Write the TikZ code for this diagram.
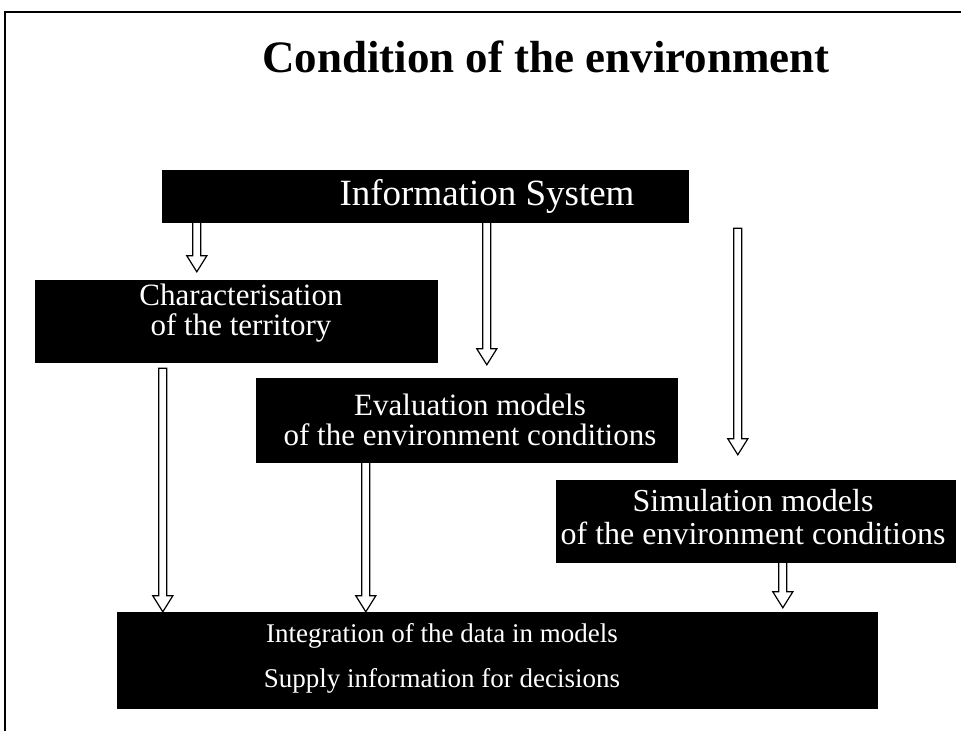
\documentclass[tikz,border=0pt]{standalone}
\usepackage{fontspec}
\setmainfont{Liberation Serif}
\usetikzlibrary{calc}
\tikzset{
  blk/.style={fill=black, draw=black, inner sep=0pt},
  boxtext/.style={text=white, font=\fontsize{31}{30}\selectfont, align=center},
  harrow/.style={draw=black, line width=1.2pt, fill=white, line join=miter},
}
% hollow block arrow from #1 down to #2 (same x)
\newcommand{\hollowdown}[2]{%
  \draw[harrow] let \p1=#1, \p2=#2 in
    (\x1-4,\y1) -- (\x1+4,\y1) -- (\x1+4,\y2+16) -- (\x1+10,\y2+16) --
    (\x1,\y2) -- (\x1-10,\y2+16) -- (\x1-4,\y2+16) -- cycle;}
\begin{document}
\begin{tikzpicture}[x=1pt,y=-1pt]
\useasboundingbox (0,0) rectangle (961,731);
% frame
\draw[line width=1.5pt] (5,731) -- (5,12) -- (961,12);
% title
\node[font=\bfseries\fontsize{45}{50}\selectfont] (title) at (546,57) {Condition of the environment};
% boxes
\node[blk, minimum width=526, minimum height=52] (info) at (425,196) {};
\node[text=white, font=\fontsize{37}{40}\selectfont] (infot) at (487,196) {Information System};
\node[blk, minimum width=402, minimum height=82] (char) at (236,321) {};
\node[boxtext] (chart) at (241,313) {Characterisation\\of the territory};
\node[blk, minimum width=421, minimum height=84] (eval) at (466.5,420) {};
\node[boxtext] (evalt) at (470,420) {Evaluation models\\of the environment conditions};
\node[blk, minimum width=399, minimum height=82] (sim) at (755.5,521) {};
\node[boxtext, font=\fontsize{32}{33}\selectfont] (simt) at (753,517) {Simulation models\\of the environment conditions};
\node[blk, minimum width=760, minimum height=96] (integ) at (497,660) {};
\node[text=white, font=\fontsize{27}{45}\selectfont, align=center] (integt) at (442,658) {Integration of the data in models\\Supply information for decisions};
% connectors
\hollowdown{($(info.south west)+(35,0)$)}{($(char.north west)+(162,-8)$)}
\hollowdown{($(info.south west)+(325,0)$)}{($(eval.north west)+(231,-13)$)}
\hollowdown{($(info.south west)+(576,6)$)}{($(sim.north west)+(182,-25)$)}
\hollowdown{($(char.south west)+(128,6)$)}{(integ.north -| {$(char.south west)+(128,0)$})}
\hollowdown{($(eval.south west)+(110,0)$)}{(integ.north -| {$(eval.south west)+(110,0)$})}
\hollowdown{($(sim.south west)+(227,0)$)}{($(integ.north west)+(666,-4)$)}
\end{tikzpicture}
\end{document}
